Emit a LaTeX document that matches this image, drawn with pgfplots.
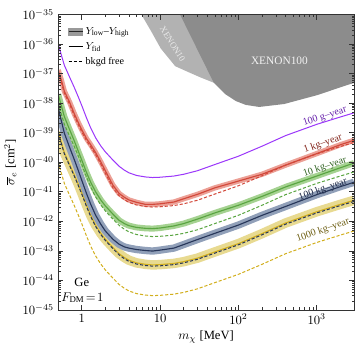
\documentclass[border=0pt]{standalone}
\usepackage{pgfplots}
\usepackage{pgfplotstable}
\pgfplotsset{compat=1.18}
\usepackage{fontspec}
\setmainfont{Liberation Serif}

\definecolor{cpurple}{RGB}{155,55,250}
\definecolor{cred}{RGB}{210,72,58}
\definecolor{bred}{RGB}{236,160,150}
\definecolor{cgreen}{RGB}{90,165,65}
\definecolor{bgreen}{RGB}{165,210,145}
\definecolor{cblue}{RGB}{40,55,90}
\definecolor{bblue}{RGB}{145,160,185}
\definecolor{cyellow}{RGB}{210,175,30}
\definecolor{byellow}{RGB}{232,218,145}
\definecolor{xdark}{RGB}{140,140,140}
\definecolor{xlight}{RGB}{178,178,178}
\definecolor{lpurple}{RGB}{100,30,170}
\definecolor{lred}{RGB}{130,35,25}
\definecolor{lgreen}{RGB}{50,100,35}
\definecolor{lblue}{RGB}{30,40,70}
\definecolor{lyellow}{RGB}{110,95,20}

% fiducial (solid) curves
\pgfplotstableread{
x     g100     kg1      kg10     kg100    kg1000
0.5   1.00e-36 1.32e-37 2.00e-38 7.08e-39 1.10e-39
0.55  4.17e-37 5.89e-38 7.94e-39 2.45e-39 4.57e-40
0.6   1.91e-37 2.51e-38 3.47e-39 9.55e-40 2.09e-40
0.7   7.59e-38 1.07e-38 1.26e-39 3.16e-40 8.32e-41
0.8   3.47e-38 4.47e-39 5.37e-40 1.26e-40 3.80e-41
0.9   1.66e-38 2.24e-39 2.40e-40 5.37e-41 1.82e-41
1     8.32e-39 1.26e-39 1.18e-40 2.45e-41 9.12e-42
1.15  3.16e-39 6.31e-40 4.47e-41 8.71e-42 3.47e-42
1.3   1.45e-39 3.89e-40 2.09e-41 3.80e-42 1.59e-42
1.5   6.76e-40 2.14e-40 1.00e-41 1.62e-42 7.41e-43
1.75  3.55e-40 1.02e-40 5.25e-42 7.94e-43 3.89e-43
2     2.24e-40 5.13e-41 3.31e-42 4.68e-43 2.45e-43
2.5   1.18e-40 1.66e-41 1.74e-42 2.45e-43 1.29e-43
3     7.24e-41 8.71e-42 1.07e-42 1.66e-43 7.94e-44
3.5   5.37e-41 6.46e-42 8.32e-43 1.35e-43 5.89e-44
4     4.37e-41 5.25e-42 7.08e-43 1.23e-43 4.79e-44
5     3.55e-41 4.37e-42 6.17e-43 1.10e-43 3.89e-44
6.5   3.16e-41 3.72e-42 5.75e-43 1.02e-43 3.47e-44
8     3.02e-41 3.72e-42 5.62e-43 9.77e-44 3.31e-44
10    3.09e-41 3.89e-42 5.89e-43 1.05e-43 3.39e-44
15    3.39e-41 4.47e-42 6.92e-43 1.23e-43 3.72e-44
20    3.89e-41 5.75e-42 8.32e-43 1.62e-43 4.27e-44
30    5.13e-41 8.13e-42 1.18e-42 2.40e-43 5.62e-44
50    8.32e-41 1.35e-41 1.91e-42 3.89e-43 9.12e-44
100   1.59e-40 2.29e-41 3.47e-42 7.41e-43 1.74e-43
200   3.47e-40 3.89e-41 6.92e-42 1.58e-42 3.80e-43
400   7.94e-40 7.94e-41 1.45e-41 3.16e-42 8.71e-43
1000  1.91e-39 1.95e-40 3.39e-41 7.94e-42 2.09e-42
2000  3.39e-39 3.89e-40 6.46e-41 1.48e-41 3.72e-42
3000  4.68e-39 5.50e-40 9.33e-41 2.09e-41 5.13e-42
}\fid

% background-free (dashed) curves
\pgfplotstableread{
x     kg1      kg10     kg100    kg1000
0.5   1.12e-37 1.00e-38 1.00e-39 1.00e-40
0.55  5.01e-38 4.17e-39 4.17e-40 4.17e-41
0.6   2.13e-38 1.91e-39 1.91e-40 1.91e-41
0.7   9.10e-39 7.59e-40 7.59e-41 7.59e-42
0.8   3.80e-39 3.47e-40 3.47e-41 3.47e-42
0.9   1.90e-39 1.66e-40 1.66e-41 1.66e-42
1     1.07e-39 8.32e-41 8.32e-42 8.32e-43
1.15  5.36e-40 3.16e-41 3.16e-42 3.16e-43
1.3   3.31e-40 1.45e-41 1.45e-42 1.45e-43
1.5   1.82e-40 6.76e-42 6.76e-43 6.76e-44
1.75  8.67e-41 3.55e-42 3.55e-43 3.55e-44
2     4.20e-41 2.24e-42 2.24e-43 2.24e-44
2.5   1.35e-41 1.18e-42 1.18e-43 1.18e-44
3     7.24e-42 7.24e-43 7.24e-44 7.24e-45
3.5   5.37e-42 5.37e-43 5.37e-44 5.37e-45
4     4.37e-42 4.37e-43 4.37e-44 4.37e-45
5     3.55e-42 3.55e-43 3.55e-44 3.55e-45
6.5   3.16e-42 3.16e-43 3.16e-44 3.16e-45
8     3.02e-42 3.02e-43 3.02e-44 3.02e-45
10    3.09e-42 3.09e-43 3.09e-44 3.09e-45
15    3.39e-42 3.39e-43 3.39e-44 3.39e-45
20    3.89e-42 3.89e-43 3.89e-44 3.89e-45
30    5.13e-42 5.13e-43 5.13e-44 5.13e-45
50    8.32e-42 8.32e-43 8.32e-44 8.32e-45
100   1.59e-41 1.59e-42 1.59e-43 1.59e-44
200   3.47e-41 3.47e-42 3.47e-43 3.47e-44
400   7.94e-41 7.94e-42 7.94e-43 7.94e-44
1000  1.91e-40 1.91e-41 1.91e-42 1.91e-43
2000  3.39e-40 3.39e-41 3.39e-42 3.39e-43
3000  4.68e-40 4.68e-41 4.68e-42 4.68e-43
}\bkgfree

\begin{document}
\begin{tikzpicture}
\begin{axis}[
  scale only axis, width=234.5pt, height=234pt,
  xmode=log, ymode=log,
  xmin=0.5, xmax=3000, ymin=1e-45, ymax=1e-35,
  xtick={1,10,100,1000}, xticklabels={$1$,$10$,$10^2$,$10^3$},
  ytick={1e-45,1e-44,1e-43,1e-42,1e-41,1e-40,1e-39,1e-38,1e-37,1e-36,1e-35},
  tick align=inside, major tick length=4pt, minor tick length=2pt,
  axis line style={black!80}, every tick/.style={black!80},
  axis on top,
  xlabel={$m_\chi$ [MeV]}, ylabel={$\overline{\sigma}_e$ [cm$^2$]},
  xlabel style={yshift=2pt}, ylabel style={yshift=-2pt},
  legend style={at={(0.02,0.975)}, anchor=north west, draw=none, fill=none,
    font=\footnotesize, row sep=1pt},
  legend cell align=left,
]
\addlegendimage{legend image code/.code={
  \fill[black!40] (0pt,-3pt) rectangle (11pt,3pt);
  \draw[black!85, line width=0.9pt] (0pt,0pt)--(11pt,0pt);}}
\addlegendentry{$Y_{\mathrm{low}}$–$Y_{\mathrm{high}}$}
\addlegendimage{legend image code/.code={
  \draw[black, line width=0.8pt] (0pt,0pt)--(11pt,0pt);}}
\addlegendentry{$Y_{\mathrm{fid}}$}
\addlegendimage{legend image code/.code={
  \draw[black, line width=0.8pt, dash pattern=on 2.5pt off 1.5pt] (0pt,0pt)--(11pt,0pt);}}
\addlegendentry{bkgd free}

% XENON regions
\addplot[fill=xlight, draw=none, forget plot] coordinates {
  (5.77,1e-35) (7.67,2.75e-36) (10.2,7.08e-37) (15.6,1.78e-37) (22.5,1.15e-37)
  (33.5,7.24e-38) (48.5,4.90e-38) (80,5e-38) (150,1e-37) (400,1e-36) (1000,1e-35)};
\addplot[fill=xdark, draw=none, forget plot] coordinates {
  (18.0,1e-35) (48.5,4.90e-38) (68.2,2.0e-38) (93,1.17e-38) (124,8.71e-39)
  (184,7.41e-39) (385,9.33e-39) (1010,1.86e-38) (2580,4.27e-38) (3000,4.8e-38) (3000,1e-35)};
\node[rotate=-58, text=white!92!black, font=\scriptsize] at (axis cs:14.5,1.0e-36) {XENON10};
\node[text=white!95!black, font=\small] at (axis cs:334,2.8e-37) {XENON100};

% bands
\addplot[byellow, line width=7.5pt, line join=round, forget plot] table[x=x,y=kg1000]{\fid};
\addplot[bblue, line width=5.8pt, line join=round, forget plot] table[x=x,y=kg100]{\fid};
\addplot[bgreen, line width=4.8pt, line join=round, forget plot] table[x=x,y=kg10]{\fid};
\addplot[bred, line width=4.2pt, line join=round, forget plot] table[x=x,y=kg1]{\fid};

% dashed (background free)
\addplot[cyellow, line width=0.8pt, dash pattern=on 2.5pt off 1.5pt, forget plot] table[x=x,y=kg1000]{\bkgfree};
\addplot[cgreen, line width=0.8pt, dash pattern=on 2.5pt off 1.5pt, forget plot] table[x=x,y=kg10]{\bkgfree};
\addplot[cred, line width=0.8pt, dash pattern=on 2.5pt off 1.5pt, forget plot] table[x=x,y=kg1]{\bkgfree};

% solid (fiducial)
\addplot[cyellow, line width=0.9pt, forget plot] table[x=x,y=kg1000]{\fid};
\addplot[cblue, line width=0.9pt, forget plot] table[x=x,y=kg100]{\fid};
\addplot[cgreen, line width=0.9pt, forget plot] table[x=x,y=kg10]{\fid};
\addplot[cred, line width=0.9pt, forget plot] table[x=x,y=kg1]{\fid};
\addplot[cpurple, line width=0.8pt, forget plot] table[x=x,y=g100]{\fid};
\addplot[cblue, line width=0.8pt, dash pattern=on 2.5pt off 1.5pt, forget plot] table[x=x,y=kg100]{\bkgfree};

% labels
\node[rotate=18, text=lpurple, font=\footnotesize] at (axis cs:1270,3.5e-39) {100 g–year};
\node[rotate=19, text=lred, font=\footnotesize] at (axis cs:1200,4.2e-40) {1 kg–year};
\node[rotate=19, text=lgreen, font=\footnotesize] at (axis cs:1270,6.8e-41) {10 kg–year};
\node[rotate=19, text=lblue, font=\footnotesize] at (axis cs:1200,1.17e-41) {100 kg–year};
\node[rotate=19, text=lyellow, font=\footnotesize] at (axis cs:1200,4.9e-43) {1000 kg–year};
\node at (axis cs:1.0,8.7e-45) {Ge};
\node at (axis cs:1.02,2.57e-45) {$F_{\mathrm{DM}}\!=\!1$};
\end{axis}
\path (current axis.north east) ++(2.3pt,11.5pt);
\end{tikzpicture}
\end{document}
